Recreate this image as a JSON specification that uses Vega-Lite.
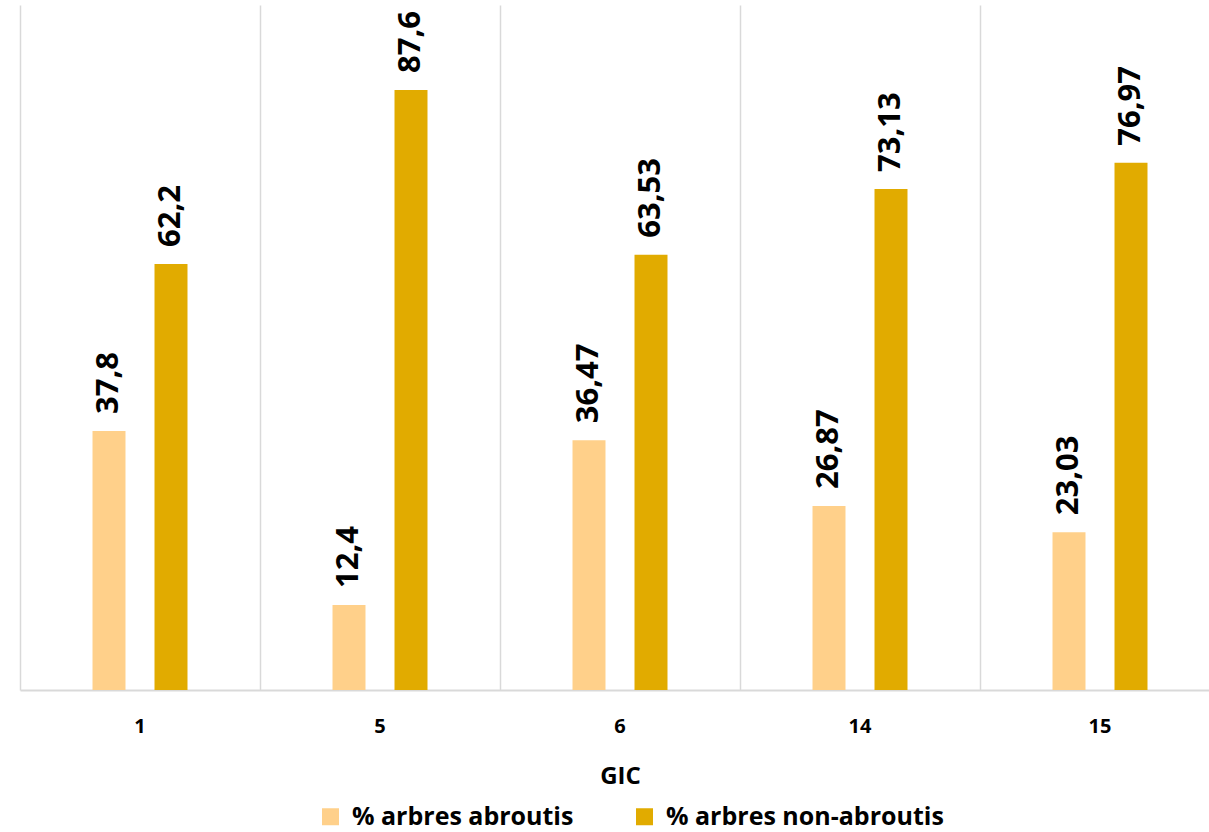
{
  "$schema": "https://vega.github.io/schema/vega-lite/v6.json",
  "autosize": "none",
  "padding": {"left": 20, "top": 5, "right": 0, "bottom": 142},
  "width": 1200,
  "height": 685,
  "background": "white",
  "config": {
    "view": {"stroke": null},
    "font": "Open Sans"
  },
  "data": {
    "values": [
      {"gic": "1", "serie": "% arbres abroutis", "value": 37.8, "label": "37,8"},
      {"gic": "1", "serie": "% arbres non-abroutis", "value": 62.2, "label": "62,2"},
      {"gic": "5", "serie": "% arbres abroutis", "value": 12.4, "label": "12,4"},
      {"gic": "5", "serie": "% arbres non-abroutis", "value": 87.6, "label": "87,6"},
      {"gic": "6", "serie": "% arbres abroutis", "value": 36.47, "label": "36,47"},
      {"gic": "6", "serie": "% arbres non-abroutis", "value": 63.53, "label": "63,53"},
      {"gic": "14", "serie": "% arbres abroutis", "value": 26.87, "label": "26,87"},
      {"gic": "14", "serie": "% arbres non-abroutis", "value": 73.13, "label": "73,13"},
      {"gic": "15", "serie": "% arbres abroutis", "value": 23.03, "label": "23,03"},
      {"gic": "15", "serie": "% arbres non-abroutis", "value": 76.97, "label": "76,97"}
    ]
  },
  "encoding": {
    "x": {
      "field": "gic",
      "type": "nominal",
      "sort": ["1", "5", "6", "14", "15"],
      "scale": {"paddingInner": 0.0875, "paddingOuter": 0.04375},
      "axis": {
        "title": "GIC",
        "titleFont": "Open Sans",
        "titleFontSize": 24,
        "titleFontWeight": "bold",
        "titleColor": "#000000",
        "titlePadding": 28,
        "labelAngle": 0,
        "labelFont": "Open Sans",
        "labelFontSize": 20,
        "labelFontWeight": "bold",
        "labelColor": "#000000",
        "labelPadding": 26,
        "ticks": false,
        "domainColor": "#d9d9d9",
        "domainWidth": 2,
        "grid": true,
        "gridColor": "#d9d9d9",
        "gridWidth": 1.5,
        "bandPosition": -0.0479
      }
    },
    "xOffset": {
      "field": "serie",
      "type": "nominal",
      "scale": {"paddingInner": 0.468, "paddingOuter": 1}
    },
    "y": {
      "field": "value",
      "type": "quantitative",
      "scale": {"domain": [0, 100], "nice": false},
      "axis": null
    }
  },
  "layer": [
    {
      "mark": {"type": "bar"},
      "encoding": {
        "color": {
          "field": "serie",
          "type": "nominal",
          "scale": {
            "domain": ["% arbres abroutis", "% arbres non-abroutis"],
            "range": ["#FFD08A", "#E1AB00"]
          },
          "legend": {
            "title": null,
            "orient": "none",
            "direction": "horizontal",
            "legendX": 298,
            "legendY": 799,
            "symbolType": "square",
            "symbolSize": 289,
            "symbolStrokeWidth": 0,
            "labelFont": "Open Sans",
            "labelFontSize": 25,
            "labelFontWeight": "bold",
            "labelColor": "#000000",
            "labelLimit": 400,
            "columnPadding": 58,
            "labelOffset": 9
          }
        }
      }
    },
    {
      "mark": {
        "type": "text",
        "angle": 270,
        "align": "left",
        "baseline": "middle",
        "dx": 17,
        "font": "Open Sans",
        "fontSize": 31,
        "fontWeight": "bold",
        "color": "#000000"
      },
      "encoding": {
        "text": {"field": "label"}
      }
    }
  ]
}
